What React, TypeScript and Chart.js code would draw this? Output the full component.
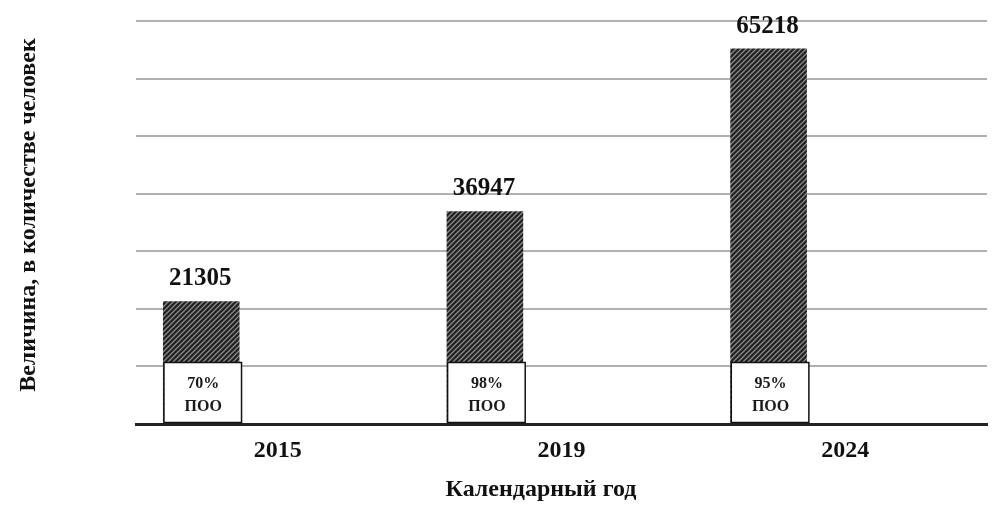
import React, { useEffect, useRef } from "react";
import { Chart, registerables } from "chart.js";

Chart.register(...registerables);

const years = ["2015", "2019", "2024"];
const people = [21305, 36947, 65218];
const shares = ["70%", "98%", "95%"];
const shareLabel = "ПОО";
const yTitle = "Величина, в количестве человек";
const xTitle = "Календарный год";

const FONT = "'Liberation Serif', 'Times New Roman', serif";

function makePattern(): CanvasPattern | string {
  const c = document.createElement("canvas");
  const s = 5;
  c.width = s;
  c.height = s;
  const g = c.getContext("2d");
  if (!g) return "#333";
  g.fillStyle = "#202020";
  g.fillRect(0, 0, s, s);
  g.strokeStyle = "#8a8a8a";
  g.lineWidth = 1.3;
  g.beginPath();
  g.moveTo(0, s);
  g.lineTo(s, 0);
  g.moveTo(-1, 1);
  g.lineTo(1, -1);
  g.moveTo(s - 1, s + 1);
  g.lineTo(s + 1, s - 1);
  g.stroke();
  const p = g.createPattern(c, "repeat");
  return p || "#333";
}

const overlayPlugin = {
  id: "overlay",
  afterDatasetsDraw(chart: any) {
    const { ctx } = chart;
    const meta = chart.getDatasetMeta(0);
    ctx.save();
    meta.data.forEach((bar: any, i: number) => {
      const left = bar.x - bar.width / 2;
      const base = bar.base;
      // white share box
      ctx.fillStyle = "#ffffff";
      ctx.fillRect(left + 1, base - 60, bar.width + 1, 60);
      ctx.strokeStyle = "#111111";
      ctx.lineWidth = 1.5;
      ctx.strokeRect(left + 1, base - 60, bar.width + 1, 60);
      ctx.fillStyle = "#1a1a1a";
      ctx.textAlign = "center";
      ctx.textBaseline = "middle";
      ctx.font = `bold 16px ${FONT}`;
      ctx.fillText(shares[i], bar.x + 2, base - 39);
      ctx.fillText(shareLabel, bar.x + 2, base - 16);
      // value label
      ctx.font = `bold 25px ${FONT}`;
      ctx.textBaseline = "alphabetic";
      ctx.fillStyle = "#111111";
      ctx.fillText(String(people[i]), bar.x - 1, bar.y - 16);
    });
    // axis titles
    ctx.font = `bold 24px ${FONT}`;
    ctx.textAlign = "center";
    ctx.textBaseline = "middle";
    ctx.fillStyle = "#111111";
    ctx.fillText(xTitle, 541, 490);
    ctx.translate(29, 215);
    ctx.rotate(-Math.PI / 2);
    ctx.fillText(yTitle, 0, 0);
    ctx.restore();
  },
};

export default function App() {
  const ref = useRef<HTMLCanvasElement | null>(null);
  useEffect(() => {
    document.body.style.margin = "0";
    if (!ref.current) return;
    const pattern = makePattern();
    const chart = new Chart(ref.current, {
      type: "bar",
      data: {
        labels: years,
        datasets: [
          {
            label: "people",
            data: people,
            backgroundColor: pattern as any,
            borderWidth: 0,
          },
          { label: "", data: years.map(() => null) },
          { label: "", data: years.map(() => null) },
        ],
      },
      options: {
        animation: false,
        responsive: false,
        layout: { padding: { left: 0, right: 18, top: 21, bottom: 0 } },
        datasets: {
          bar: { categoryPercentage: 0.81, barPercentage: 1.0 },
        },
        plugins: {
          legend: { display: false },
          tooltip: { enabled: false },
        },
        scales: {
          x: {
            grid: { display: false, drawTicks: false },
            border: { display: true, color: "#222222", width: 3 },
            ticks: {
              padding: 12,
              color: "#111111",
              font: { family: FONT, size: 24, weight: "bold" },
            },
            afterFit: (scale: any) => {
              scale.height = 87;
            },
          },
          y: {
            min: 0,
            max: 70000,
            ticks: { stepSize: 10000, display: false },
            grid: {
              drawTicks: false,
              color: (c: any) => (c.tick && c.tick.value === 0 ? "#222222" : "#b0b0b0"),
              lineWidth: (c: any) => (c.tick && c.tick.value === 0 ? 3 : 2),
            },
            border: { display: false },
            afterFit: (scale: any) => {
              scale.width = 136;
            },
          },
        },
      },
      plugins: [overlayPlugin],
    });
    return () => chart.destroy();
  }, []);
  return (
    <div style={{ width: 1005, height: 511, background: "#fff" }}>
      <canvas ref={ref} width={1005} height={511} />
    </div>
  );
}
